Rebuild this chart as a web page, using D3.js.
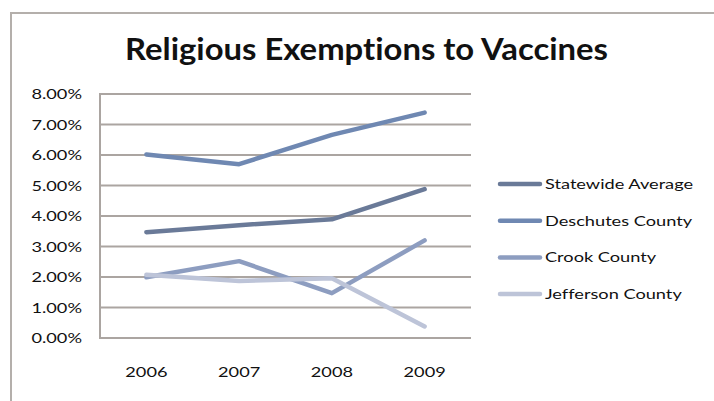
<!DOCTYPE html>
<html>
<head>
<meta charset="utf-8">
<script src="https://cdn.jsdelivr.net/npm/d3@7"></script>
<style>
  html, body { margin: 0; padding: 0; background: #fff; }
  svg { display: block; }
  text { font-family: Lato, "Open Sans", sans-serif; fill: #111; font-variant-ligatures: none; font-feature-settings: "liga" 0, "clig" 0; }
</style>
</head>
<body>
<svg id="chart" width="714" height="401"></svg>
<script>
// Chart data
const years = ["2006", "2007", "2008", "2009"];
const seriesNames = ["Statewide Average", "Deschutes County", "Crook County", "Jefferson County"];
const statewide = [3.47, 3.70, 3.89, 4.88];
const deschutes = [6.02, 5.70, 6.66, 7.39];
const crook = [1.99, 2.52, 1.47, 3.20];
const jefferson = [2.07, 1.87, 1.96, 0.38];
const yTicks = [0, 1, 2, 3, 4, 5, 6, 7, 8];
const seriesColors = ["#6a7a98", "#6f88b2", "#8d9dc0", "#bdc4d8"];

const seriesValues = [statewide, deschutes, crook, jefferson];
const series = seriesNames.map((name, i) => ({ name, values: seriesValues[i], color: seriesColors[i] }));

const svg = d3.select("#chart");
const W = 714, H = 401;
const plot = { left: 100, right: 471, top: 94, bottom: 338 };
const gridColor = "#aba5a1";
const textStretch = 1.3;

// Outer frame (only top and left edges fall inside the view)
svg.append("path")
  .attr("d", `M11,${H} L11,13 L${W},13`)
  .attr("fill", "none")
  .attr("stroke", "#b4afab")
  .attr("stroke-width", 2);

// Title
svg.append("text")
  .attr("x", 125).attr("y", 60)
  .attr("font-size", 30)
  .attr("font-weight", "bold")
  .attr("textLength", 483)
  .attr("lengthAdjust", "spacingAndGlyphs")
  .text("Religious Exemptions to Vaccines");

const x = d3.scaleBand().domain(years).range([plot.left, plot.right]);
const y = d3.scaleLinear().domain([0, 8]).range([plot.bottom, plot.top]);

// Horizontal gridlines
svg.append("g")
  .selectAll("line")
  .data(yTicks)
  .join("line")
  .attr("x1", plot.left).attr("x2", plot.right)
  .attr("y1", d => y(d)).attr("y2", d => y(d))
  .attr("stroke", gridColor)
  .attr("stroke-width", 2);

// Vertical axis line
svg.append("line")
  .attr("x1", plot.left).attr("x2", plot.left)
  .attr("y1", y(8) - 1).attr("y2", y(0) + 1)
  .attr("stroke", gridColor)
  .attr("stroke-width", 2);

// Y tick labels (percent, two decimals)
const fmt = d => d.toFixed(2) + "%";
svg.append("g")
  .selectAll("text")
  .data(yTicks)
  .join("text")
  .attr("transform", d => `translate(82,${y(d) + 5}) scale(${textStretch},1)`)
  .attr("text-anchor", "end")
  .attr("font-size", 14)
  .text(fmt);

// X category labels
svg.append("g")
  .selectAll("text")
  .data(years)
  .join("text")
  .attr("transform", d => `translate(${x(d) + x.bandwidth() / 2},377) scale(${textStretch},1)`)
  .attr("text-anchor", "middle")
  .attr("font-size", 14)
  .text(d => d);

// Series lines
const line = d3.line()
  .x((d, i) => x(years[i]) + x.bandwidth() / 2)
  .y(d => y(d));

svg.append("g")
  .selectAll("path")
  .data(series)
  .join("path")
  .attr("d", d => line(d.values))
  .attr("fill", "none")
  .attr("stroke", d => d.color)
  .attr("stroke-width", 4.5)
  .attr("stroke-linejoin", "round")
  .attr("stroke-linecap", "round");

// Legend
const legend = svg.append("g")
  .selectAll("g")
  .data(series)
  .join("g")
  .attr("transform", (d, i) => `translate(500,${184 + i * 36.7})`);

legend.append("line")
  .attr("x1", 0).attr("x2", 40)
  .attr("y1", 0).attr("y2", 0)
  .attr("stroke", d => d.color)
  .attr("stroke-width", 4.5)
  .attr("stroke-linecap", "round");

legend.append("text")
  .attr("transform", `translate(45,5) scale(${textStretch},1)`)
  .attr("font-size", 14)
  .text(d => d.name);
</script>
</body>
</html>
